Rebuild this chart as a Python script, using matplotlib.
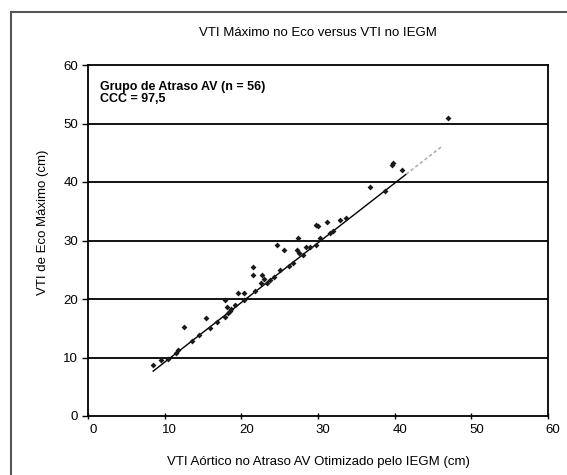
import numpy as np
import matplotlib
matplotlib.use("Agg")
import matplotlib.pyplot as plt
import matplotlib.transforms as mtransforms
from matplotlib.lines import Line2D

plt.rcParams['font.family'] = ['Liberation Sans', 'DejaVu Sans']

# VTI no IEGM (x) versus VTI maximo no eco (y)
vti_iegm = [8.5, 9.5, 10.4, 11.8, 11.5, 12.5, 15.4, 15.9, 14.5, 17.9,
            18.1, 18.3, 17.9, 18.5, 18.7, 19.6, 20.3, 20.3, 21.5, 21.5,
            22.7, 22.5, 21.8, 23.3, 23.8, 24.3, 25.1, 24.7, 25.6, 26.2,
            26.8, 27.4, 27.5, 27.2, 28.4, 29.0, 29.7, 30.0, 30.2, 29.8,
            31.2, 31.5, 32.9, 33.6, 36.8, 38.7, 39.6, 39.8, 40.9, 46.9,
            19.2, 22.9, 28.0, 16.8, 13.5, 32.0]
vti_eco = [8.7, 9.6, 9.7, 11.3, 10.8, 15.2, 16.7, 15.0, 13.8, 19.8,
           18.7, 17.6, 17.0, 17.9, 18.3, 21.0, 21.1, 19.8, 25.5, 24.1,
           24.1, 22.8, 21.3, 22.7, 23.2, 23.8, 25.0, 29.2, 28.4, 25.7,
           26.1, 30.4, 27.8, 28.3, 28.9, 28.9, 29.3, 32.5, 30.4, 32.7,
           33.2, 31.2, 33.5, 33.8, 39.1, 38.5, 42.9, 43.2, 42.1, 50.9,
           18.9, 23.5, 27.6, 16.1, 12.8, 31.6]

# trend line (solid part, then grey dotted extension)
fit_slope = 1.02
fit_intercept = -1.0
fit_x_solid = [8.5, 41.5]
fit_x_ext = [41.5, 46.3]

grupo_txt = "Grupo de Atraso AV (n = 56)\nCCC = 97,5"
y_ticks = [0, 10, 20, 30, 40, 50, 60]
x_ticks = [0, 10, 20, 30, 40, 50, 60]

fig = plt.figure(figsize=(5.67, 4.75), dpi=100)
ax = fig.add_axes([88/567, 1-416/475, (548-88)/567, (416-65)/475])

# horizontal grid lines
for yv in y_ticks[1:-1]:
    ax.axhline(yv, color='black', lw=1.3, zorder=1)

xs = np.array(fit_x_solid)
ax.plot(xs, fit_slope*xs + fit_intercept, color='black', lw=1.0, zorder=2)
xe = np.array(fit_x_ext)
ax.plot(xe, fit_slope*xe + fit_intercept, color='#b0b0b0', lw=1.2, ls=(0, (2, 1.5)), zorder=2)

ax.plot(vti_iegm, vti_eco, 'D', color='#1a1a1a', ms=3, mew=0, zorder=3)

ax.set_xlim(0, 60)
ax.set_ylim(0, 60)
ax.set_xticks(x_ticks)
ax.set_yticks(y_ticks)
ax.tick_params(axis='both', direction='out', length=4, width=1, labelsize=9.5, colors='black', pad=3)
ax.tick_params(axis='x', direction='inout', length=5)
for lab in ax.get_xticklabels():
    lab.set_transform(lab.get_transform() + mtransforms.ScaledTranslation(5/100, 0, fig.dpi_scale_trans))
for sp in ax.spines.values():
    sp.set_linewidth(1.3)
    sp.set_color('black')

ax.text(0.027, 0.955, grupo_txt, transform=ax.transAxes, ha='left', va='top',
        fontsize=9, fontweight='bold', linespacing=1.0)

fig.text(318/567, 1-33/475, "VTI Máximo no Eco versus VTI no IEGM", ha='center', va='center', fontsize=9.5)
fig.text(318/567, 1-462/475, "VTI Aórtico no Atraso AV Otimizado pelo IEGM (cm)", ha='center', va='center', fontsize=9.5)
fig.text(43/567, 1-222/475, "VTI de Eco Máximo (cm)", ha='center', va='center', rotation=90, fontsize=9.5)

# outer frame of the chart area
fig.add_artist(Line2D([11/567, 1], [1-12/475, 1-12/475], color='#555555', lw=1.5, transform=fig.transFigure))
fig.add_artist(Line2D([11/567, 11/567], [0, 1-12/475], color='#555555', lw=1.5, transform=fig.transFigure))

fig.savefig('out.png', dpi=100)
